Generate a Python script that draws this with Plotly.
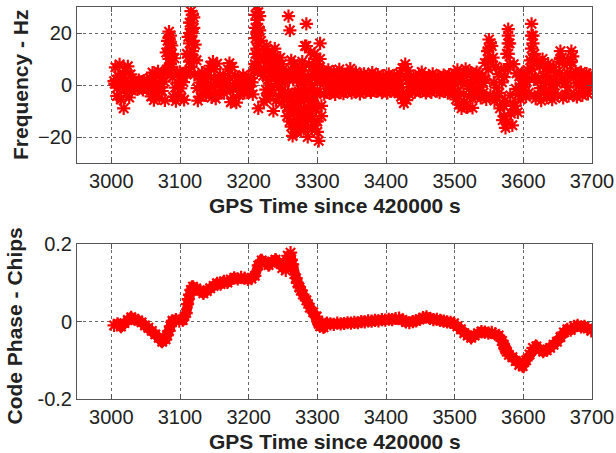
import plotly.graph_objects as go
from plotly.subplots import make_subplots

# ---- Frequency tracking error (Hz), sampled every 2 s from t = 3004 s ----
freq_t0 = 3004
freq_dt = 2
freq_hz = [
    1.5, 6.8, -4.2, 3.5, 7.9, -5.6, 2.2, -9.0, 5.4, -3.1,
    7.2, -4.8, 4.1, -2.0, 1.6, -1.4, 0.8, -1.7, 1.9, -0.6,
    1.2, -1.9, 1.7, -0.9, 2.0, -1.5, 2.6, -4.4, 4.8, -5.8,
    3.9, -3.2, 5.3, -5.1, 2.7, -2.3, 4.5, -5.9, 12.5, 17.0,
    20.5, 8.0, 15.2, -4.6, 10.3, -6.2, 4.4, -3.8, 5.1, -4.9,
    3.3, -5.7, 4.6, 12.0, 18.5, 24.0, 28.4, 21.5, 26.0, 15.5,
    9.5, -6.0, 3.6, -4.5, 4.8, -3.2, 2.9, -4.0, 5.2, -2.6,
    7.4, -4.8, 9.0, 6.1, -5.2, 8.2, -3.4, 3.8, -2.2, 2.6,
    -3.1, 2.1, -1.8, 6.0, 8.4, -6.6, 7.0, -5.0, 3.5, -6.8,
    3.0, -3.9, 2.4, -2.2, 3.8, -3.0, 1.9, -2.9, 3.2, -2.4,
    2.7, -3.6, 5.5, 22.0, 30.5, -9.0, 26.5, 17.0, 11.5, -6.4,
    13.5, -5.5, 9.0, -3.2, 11.8, 4.5, -10.0, 14.0, -6.0, 8.5,
    -4.2, 10.5, -6.8, 6.0, -3.0, 4.2, -8.5, 26.5, -14.0, 9.5,
    -19.6, -11.0, 6.5, -15.0, -7.0, 3.8, -12.5, 9.0, -17.0, 15.0,
    23.5, -20.0, -9.5, 12.5, -13.0, 4.5, -15.5, 10.0, -14.0, -21.5,
    16.0, -8.0, 5.5, -3.5, 4.9, -2.8, 5.8, -3.2, 4.0, -2.4,
    5.2, -3.6, 3.1, -2.0, 6.0, -2.9, 4.4, -3.3, 3.0, -2.5,
    4.6, -2.1, 6.3, -3.0, 3.7, -2.6, 5.0, -1.8, 2.6, -3.4,
    3.9, -2.2, 4.3, -2.7, 2.1, -1.9, 3.5, -2.8, 4.8, -2.0,
    3.3, -2.5, 4.0, -1.6, 2.8, -2.9, 3.6, -2.2, 2.5, -3.0,
    4.2, -2.4, 3.0, -1.8, 3.7, -2.6, 2.2, -3.1, 4.4, -4.5,
    6.5, -7.0, 8.0, -5.8, 5.5, -3.6, 2.9, -2.3, 3.4, -2.7,
    2.5, -1.8, 4.1, -2.6, 5.0, -2.0, 3.6, -3.0, 2.4, -2.1,
    3.2, -2.8, 4.3, -1.7, 2.9, -2.4, 3.5, -2.9, 2.6, -2.2,
    3.8, -2.5, 2.7, -3.1, 4.0, -2.0, 3.1, -3.4, 4.6, -5.5,
    5.8, -7.5, 3.4, -9.0, 4.2, -6.4, 6.2, -8.6, 5.0, -4.5,
    4.8, -8.8, 3.0, -4.6, 5.0, -3.8, 4.5, -5.0, 3.2, -2.9,
    8.5, -5.5, 13.0, 17.5, -4.0, 15.0, 10.5, -6.0, 7.0, -4.8,
    4.2, -9.0, 6.0, -13.5, 3.0, -16.5, 12.0, 21.5, 16.0, -11.0,
    -15.5, 8.0, -8.0, 4.5, -10.5, 3.3, -5.5, 4.6, -3.4, 2.9,
    -4.5, 5.8, -3.0, 9.5, 23.5, 19.0, 12.0, -5.2, 9.0, -3.8,
    7.5, -6.0, 10.0, -2.8, 6.4, -4.8, 8.2, -3.5, 5.5, -5.6,
    7.0, -3.2, 5.0, -4.0, 9.0, 13.0, 10.5, -5.0, 7.8, -3.6,
    4.5, -4.2, 8.6, 13.0, 11.0, -3.8, 5.2, -4.6, 4.0, -3.3,
    5.0, -4.0, 3.6, -2.6, 4.4, -3.4, 3.9, 0.8,
]
freq_time = [freq_t0 + freq_dt * i for i in range(len(freq_hz))]

# Interleaved samples every 4 s from t = 3005 s
mid_t0 = 3005
mid_dt = 4
mid_hz = [
    0.5, -1.0, 2.5, -0.8, 1.2, -1.5, 0.7, -0.3, 0.4, -0.5,
    0.3, -0.4, 0.6, -0.8, 1.0, -1.2, 0.5, -0.9, 1.3, 6.0,
    14.0, 3.0, -1.0, 0.8, -1.3, 1.1, 5.0, 11.0, 20.0, 4.0,
    -1.2, 0.9, -0.7, 1.1, -1.0, 3.0, -0.8, 1.4, 0.2, -0.6,
    0.9, -1.1, 2.6, -1.4, 0.6, -0.5, 0.8, -0.9, 0.7, -0.4,
    1.0, 8.0, 19.0, 6.0, 3.5, -1.8, 5.5, -0.5, 7.0, 1.5,
    3.0, -2.0, 1.2, -3.0, -6.0, 2.0, -9.0, -2.5, 4.0, -5.0,
    -13.0, 2.0, -6.0, -3.0, 6.0, 2.0, 0.5, 1.2, 0.3, 1.0,
    0.6, 1.3, 0.2, 0.9, 0.4, 1.1, 0.3, 0.8, 0.5, 0.2,
    0.9, -0.3, 0.6, 0.1, 0.8, 0.3, 0.7, -0.2, 0.5, 0.4,
    0.8, -0.1, 0.6, 0.2, 0.4, -3.5, 3.0, -0.8, 0.7, 0.1,
    0.6, -0.2, 0.9, 0.3, 0.5, -0.3, 0.8, 0.2, 0.5, -0.1,
    0.7, 0.2, 0.4, -0.4, 0.3, -2.5, 1.0, -3.5, 0.8, -1.5,
    0.5, -2.0, 1.0, -0.6, 0.8, 2.0, 6.0, 9.0, 1.0, -1.0,
    -3.0, 1.0, -6.0, 6.0, -4.0, -8.0, -1.5, -3.5, 0.4, -0.8,
    1.2, 2.5, 6.0, 3.0, 1.5, -1.2, 3.5, 0.8, 2.0, -1.0,
    1.8, 0.5, 4.5, 2.5, 1.0, -0.8, 4.0, 3.0, 0.6, -0.5,
    1.2, -0.9, 0.7, 0.2,
]
mid_time = [mid_t0 + mid_dt * i for i in range(len(mid_hz))]

# Extra samples inside the large frequency excursions
burst_time = [
    3084, 3084, 3084, 3084, 3086, 3086, 3086, 3088, 3088,
    3114, 3114, 3114, 3114, 3116, 3116, 3116, 3116, 3118, 3118, 3118, 3120, 3120,
    3210, 3210, 3210, 3210, 3212, 3212, 3212, 3212, 3214, 3214, 3214, 3216, 3216,
    3226, 3226, 3234, 3234, 3260, 3284, 3296, 3296, 3300, 3274, 3268, 3268, 3290,
    3550, 3550, 3552, 3578, 3578, 3578, 3580, 3572, 3572, 3576,
    3612, 3612, 3614, 3614, 3670, 3654,
    3222, 3222, 3228, 3228, 3228, 3232, 3232, 3240, 3240, 3244, 3244, 3248, 3248,
    3256, 3256, 3256, 3258, 3258, 3258, 3262, 3262, 3262, 3266, 3266, 3266, 3266,
    3270, 3270, 3270, 3272, 3272, 3276, 3276, 3276, 3278, 3278, 3280, 3280, 3280,
    3282, 3282, 3286, 3286, 3286, 3288, 3288, 3292, 3292, 3292, 3294, 3294,
    3298, 3298, 3300, 3300, 3304, 3304, 3306, 3306,
]
burst_hz = [
    18.0, 13.0, 10.0, 6.0, 19.0, 16.0, 11.0, 12.0, 7.0,
    20.0, 16.0, 9.0, 5.0, 24.0, 19.0, 12.0, 7.0, 27.0, 17.0, 13.0, 22.0, 10.0,
    27.0, 18.0, 12.0, 6.0, 25.0, 20.0, 14.0, 9.0, 28.0, 22.0, 16.0, 21.0, 11.0,
    15.0, 10.0, 12.0, 8.0, 21.0, 15.0, 12.0, -8.0, 8.0, -15.0, -17.0, -8.0, -11.0,
    14.0, 10.0, 16.0, 16.0, 12.0, 19.0, 8.0, -12.0, -8.0, -14.0,
    19.0, 14.0, 16.0, 10.0, 9.0, 10.0,
    6.0, 10.0, 2.0, -4.0, 12.0, 7.0, -2.0, 4.0, 10.0, 6.0, -1.0, 2.0, 8.0,
    -5.0, 3.0, -12.0, 5.0, -3.0, -10.0, -4.0, -9.0, -16.0, 4.0, -4.0, -14.0, 8.0,
    -10.0, 2.0, -18.0, 6.0, -3.0, -6.0, 1.0, -17.0, 4.0, -11.0, -3.0, 7.0, -9.0,
    -14.0, 0.0, 3.0, -6.0, -16.0, 8.0, -2.0, 0.0, -9.0, -17.0, -4.0, 7.0,
    -9.0, 3.0, -3.0, -18.0, 10.0, 2.0, -12.0, 3.0,
]

# ---- Code phase error (chips), sampled every 5 s from t = 3004 s ----
code_t0 = 3004
code_dt = 5
code_chips = [
    -0.010, -0.006, -0.013, -0.004, 0.004, 0.011, 0.006, 0.003, -0.002, -0.010,
    -0.016, -0.024, -0.033, -0.042, -0.052, -0.046, -0.024, 0.002, 0.005, 0.001,
    0.004, 0.022, 0.070, 0.090, 0.084, 0.081, 0.073, 0.079, 0.086, 0.092,
    0.099, 0.097, 0.104, 0.101, 0.109, 0.113, 0.110, 0.114, 0.112, 0.109,
    0.111, 0.118, 0.145, 0.158, 0.152, 0.146, 0.155, 0.160, 0.152, 0.138,
    0.132, 0.165, 0.148, 0.112, 0.088, 0.070, 0.055, 0.036, 0.024, 0.013,
    -0.012, -0.015, -0.004, -0.006, -0.007, -0.004, -0.006, -0.005, -0.003, -0.004,
    -0.002, -0.003, 0.000, -0.001, 0.002, 0.001, 0.003, 0.002, 0.005, 0.004,
    0.006, 0.005, 0.008, 0.009, 0.004, -0.001, -0.003, 0.000, 0.002, 0.006,
    0.010, 0.012, 0.008, 0.005, 0.006, 0.003, 0.001, -0.001, -0.002, -0.004,
    -0.012, -0.020, -0.030, -0.036, -0.042, -0.036, -0.030, -0.026, -0.027, -0.030,
    -0.028, -0.032, -0.036, -0.050, -0.072, -0.086, -0.092, -0.102, -0.112, -0.115,
    -0.100, -0.085, -0.068, -0.064, -0.072, -0.078, -0.074, -0.068, -0.060, -0.052,
    -0.040, -0.028, -0.020, -0.022, -0.012, -0.010, -0.014, -0.012, -0.018, -0.024,
]
code_time = [code_t0 + code_dt * i for i in range(len(code_chips))]

# Extra code-phase samples on the steep sections
code_extra_time = [3081, 3086, 3111, 3112, 3116, 3257, 3261, 3262, 3263,
                   3271, 3276, 3301, 3302, 3571, 3573, 3576]
code_extra_chips = [-0.036, -0.012, 0.045, 0.058, 0.082, 0.170, 0.178, 0.160, 0.140,
                    0.100, 0.080, 0.000, -0.006, -0.060, -0.067, -0.078]

x_ticks = [3000, 3100, 3200, 3300, 3400, 3500, 3600, 3700]
freq_ticks = [-20, 0, 20]
code_ticks = [-0.2, 0, 0.2]

RED = "#ff0000"
FONT = "Liberation Sans, Arial, sans-serif"
marker = dict(symbol="asterisk-open", size=11, color=RED, line=dict(color=RED, width=2.2))

fig = make_subplots(rows=2, cols=1, vertical_spacing=0.207)

for xs, ys in ((freq_time, freq_hz), (mid_time, mid_hz), (burst_time, burst_hz)):
    fig.add_trace(go.Scatter(x=xs, y=ys, mode="markers", marker=marker,
                             showlegend=False), row=1, col=1)

# code phase: time-ordered trace drawn as a thick line with star markers
code_pts = sorted(zip(code_time + code_extra_time, code_chips + code_extra_chips))
fig.add_trace(go.Scatter(x=[p[0] for p in code_pts], y=[p[1] for p in code_pts],
                         mode="lines+markers", line=dict(color=RED, width=10),
                         marker=marker, showlegend=False), row=2, col=1)

axis_style = dict(
    showline=True, linecolor="#555555", linewidth=1, mirror="ticks",
    ticks="inside", ticklen=5, tickcolor="#555555",
    showgrid=True, gridcolor="#666666", griddash="dot", gridwidth=1,
    zeroline=False,
    tickfont=dict(family=FONT, size=20, color="#222222"),
)

for r in (1, 2):
    fig.update_xaxes(range=[2950, 3700], tickvals=x_ticks, row=r, col=1, **axis_style)
fig.update_yaxes(range=[-30, 30], tickvals=freq_ticks, row=1, col=1, **axis_style)
fig.update_yaxes(range=[-0.2, 0.2], tickvals=code_ticks, ticktext=["-0.2", "0", "0.2"],
                 row=2, col=1, **axis_style)

title_font = dict(family=FONT, size=21, color="#222222")
annotations = [
    dict(text="<b>GPS Time since 420000 s</b>", xref="paper", yref="paper",
         x=0.5, y=0.602, xanchor="center", yanchor="middle", yshift=-42,
         showarrow=False, font=title_font),
    dict(text="<b>GPS Time since 420000 s</b>", xref="paper", yref="paper",
         x=0.5, y=0.0, xanchor="center", yanchor="middle", yshift=-42,
         showarrow=False, font=title_font),
    dict(text="<b>Frequency - Hz</b>", xref="paper", yref="paper", textangle=-90,
         x=0.0, xanchor="center", xshift=-57, y=0.801, yanchor="middle",
         showarrow=False, font=title_font),
    dict(text="<b>Code Phase - Chips</b>", xref="paper", yref="paper", textangle=-90,
         x=0.0, xanchor="center", xshift=-63, y=0.185, yanchor="middle",
         showarrow=False, font=title_font),
]

fig.update_layout(
    width=616, height=453,
    margin=dict(l=77, r=24, t=7, b=54, autoexpand=False),
    paper_bgcolor="white", plot_bgcolor="white",
    annotations=annotations,
)
fig.update_yaxes(domain=[0.602, 1.0], row=1, col=1)
fig.update_yaxes(domain=[0.0, 0.395], row=2, col=1)

fig.write_html("out.html")
